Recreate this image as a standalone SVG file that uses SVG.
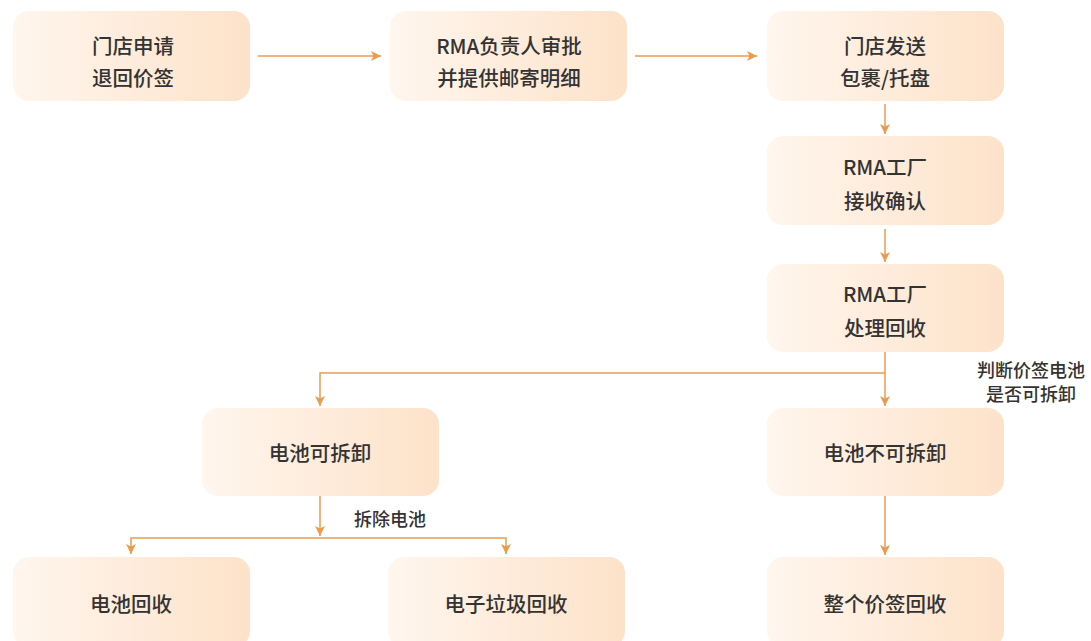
<svg xmlns="http://www.w3.org/2000/svg" width="1091" height="641" viewBox="0 0 1091 641">
<style>
.box{fill:url(#g)}
.t{font-family:"Noto Sans CJK SC","Noto Sans",sans-serif;font-size:20.5px;font-weight:500;fill:#333;text-anchor:middle;dominant-baseline:central}
.l{font-family:"Noto Sans CJK SC","Noto Sans",sans-serif;font-size:18px;font-weight:500;fill:#333;text-anchor:middle;dominant-baseline:central}
.c{fill:none;stroke:#ec9a4c;stroke-width:1.5}
</style>
<defs>
<linearGradient id="g" x1="0" y1="0" x2="1" y2="0">
<stop offset="0" stop-color="#fff6ee"/>
<stop offset="1" stop-color="#fde2c9"/>
</linearGradient>
<marker id="a" viewBox="0 0 10 10" refX="10" refY="5" markerWidth="10" markerHeight="10" markerUnits="userSpaceOnUse" orient="auto">
<path d="M0,0 L10,5 L0,10 L2.5,5 Z" fill="#ec9a4c"/>
</marker>
</defs>
<rect width="1091" height="641" fill="#fff"/>
<g id="connectors">
<path class="c" d="M258,56 H381" marker-end="url(#a)"/>
<path class="c" d="M635,56 H757" marker-end="url(#a)"/>
<path class="c" d="M885,104 V134" marker-end="url(#a)"/>
<path class="c" d="M885,229 V262" marker-end="url(#a)"/>
<path class="c" d="M885,352 V406" marker-end="url(#a)"/>
<path class="c" d="M885,373 H320 V406" marker-end="url(#a)"/>
<path class="c" d="M320,496 V536" marker-end="url(#a)"/>
<path class="c" d="M320,538 H131 V554" marker-end="url(#a)"/>
<path class="c" d="M320,538 H506 V554" marker-end="url(#a)"/>
<path class="c" d="M885,496 V555" marker-end="url(#a)"/>
<text class="l" x="1031" y="369">判断价签电池</text>
<text class="l" x="1031" y="393">是否可拆卸</text>
<text class="l" x="390" y="518">拆除电池</text>
</g>
<g id="n1"><rect class="box" x="13" y="11" width="237" height="90" rx="16"/><text class="t" x="133" y="45">门店申请</text><text class="t" x="133" y="77">退回价签</text></g>
<g id="n2"><rect class="box" x="390" y="11" width="237" height="90" rx="16"/><text class="t" x="509" y="45">RMA负责人审批</text><text class="t" x="509" y="77">并提供邮寄明细</text></g>
<g id="n3"><rect class="box" x="767" y="11" width="237" height="90" rx="16"/><text class="t" x="885" y="45">门店发送</text><text class="t" x="885" y="77">包裹/托盘</text></g>
<g id="n4"><rect class="box" x="767" y="136" width="237" height="89" rx="16"/><text class="t" x="885" y="166">RMA工厂</text><text class="t" x="885" y="200">接收确认</text></g>
<g id="n5"><rect class="box" x="767" y="264" width="237" height="88" rx="16"/><text class="t" x="885" y="293">RMA工厂</text><text class="t" x="885" y="327">处理回收</text></g>
<g id="n6"><rect class="box" x="202" y="408" width="237" height="88" rx="16"/><text class="t" x="320" y="452">电池可拆卸</text></g>
<g id="n7"><rect class="box" x="767" y="408" width="237" height="88" rx="16"/><text class="t" x="885" y="452">电池不可拆卸</text></g>
<g id="n8"><rect class="box" x="13" y="557" width="237" height="90" rx="16"/><text class="t" x="131" y="603">电池回收</text></g>
<g id="n9"><rect class="box" x="388" y="557" width="237" height="90" rx="16"/><text class="t" x="506" y="603">电子垃圾回收</text></g>
<g id="n10"><rect class="box" x="767" y="557" width="237" height="90" rx="16"/><text class="t" x="885" y="603">整个价签回收</text></g>
</svg>
